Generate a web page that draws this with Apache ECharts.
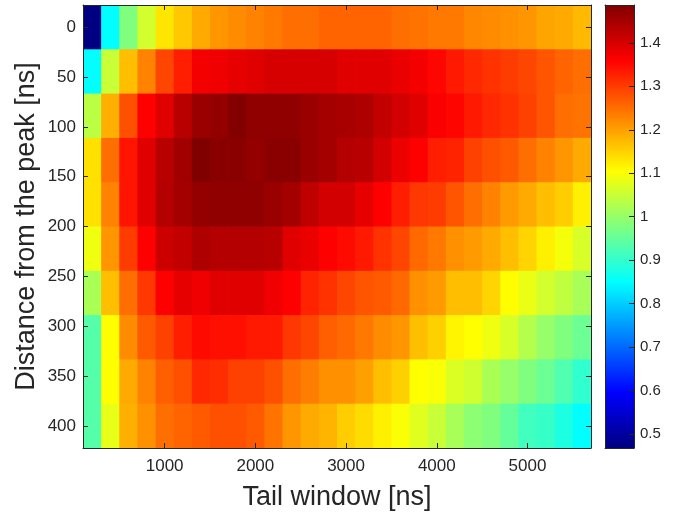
<!DOCTYPE html>
<html>
<head>
<meta charset="utf-8">
<script src="https://cdn.jsdelivr.net/npm/echarts@6/dist/echarts.min.js"></script>
<style>
  html, body { margin: 0; padding: 0; background: #ffffff; }
  #chart { width: 678px; height: 512px; }
</style>
</head>
<body>
<div id="chart"></div>
<script>
// Tail window centres [ns] (columns)
var tailWindows = [200, 400, 600, 800, 1000, 1200, 1400, 1600, 1800, 2000, 2200, 2400, 2600, 2800,
                   3000, 3200, 3400, 3600, 3800, 4000, 4200, 4400, 4600, 4800, 5000, 5200, 5400, 5600];
// Distance from the peak [ns] (rows)
var distances = [0, 44.444, 88.889, 133.333, 177.778, 222.222, 266.667, 311.111, 355.556, 400];

// Values, one array per row (distance)
var row0 = [0.468, 0.85, 0.978, 1.06, 1.13, 1.16, 1.19, 1.21, 1.22, 1.23, 1.24, 1.25, 1.25, 1.26, 1.26, 1.26, 1.26, 1.25, 1.245, 1.24, 1.24, 1.225, 1.22, 1.215, 1.21, 1.195, 1.19, 1.175];
var row1 = [0.85, 1.05, 1.17, 1.23, 1.29, 1.33, 1.37, 1.375, 1.385, 1.39, 1.40, 1.40, 1.40, 1.40, 1.39, 1.39, 1.39, 1.38, 1.37, 1.355, 1.335, 1.32, 1.31, 1.30, 1.29, 1.275, 1.26, 1.25];
var row2 = [1.037, 1.185, 1.28, 1.36, 1.39, 1.43, 1.46, 1.467, 1.485, 1.47, 1.47, 1.47, 1.46, 1.45, 1.447, 1.44, 1.42, 1.405, 1.39, 1.365, 1.355, 1.335, 1.32, 1.31, 1.295, 1.275, 1.25, 1.245];
var row3 = [1.135, 1.25, 1.34, 1.39, 1.43, 1.455, 1.487, 1.477, 1.477, 1.467, 1.477, 1.477, 1.46, 1.45, 1.435, 1.43, 1.405, 1.378, 1.36, 1.33, 1.325, 1.295, 1.28, 1.27, 1.25, 1.23, 1.21, 1.19];
var row4 = [1.135, 1.23, 1.34, 1.39, 1.435, 1.45, 1.467, 1.47, 1.47, 1.47, 1.46, 1.45, 1.425, 1.405, 1.405, 1.385, 1.36, 1.33, 1.305, 1.30, 1.275, 1.25, 1.23, 1.205, 1.19, 1.17, 1.155, 1.12];
var row5 = [1.09, 1.21, 1.30, 1.36, 1.41, 1.42, 1.44, 1.435, 1.435, 1.435, 1.43, 1.39, 1.38, 1.36, 1.35, 1.335, 1.31, 1.29, 1.255, 1.24, 1.215, 1.205, 1.19, 1.17, 1.148, 1.12, 1.095, 1.066];
var row6 = [1.02, 1.17, 1.25, 1.305, 1.36, 1.385, 1.375, 1.39, 1.39, 1.39, 1.375, 1.36, 1.325, 1.31, 1.29, 1.275, 1.27, 1.255, 1.215, 1.205, 1.17, 1.17, 1.148, 1.107, 1.085, 1.06, 1.041, 1.018];
var row7 = [0.935, 1.105, 1.22, 1.27, 1.295, 1.33, 1.35, 1.345, 1.345, 1.335, 1.335, 1.305, 1.29, 1.265, 1.255, 1.24, 1.22, 1.21, 1.17, 1.152, 1.115, 1.105, 1.09, 1.066, 1.03, 1.0, 0.978, 0.957];
var row8 = [0.935, 1.105, 1.19, 1.23, 1.265, 1.28, 1.32, 1.315, 1.295, 1.295, 1.28, 1.25, 1.235, 1.215, 1.215, 1.2, 1.17, 1.152, 1.105, 1.10, 1.07, 1.058, 1.02, 1.0, 0.978, 0.957, 0.93, 0.898];
var row9 = [0.935, 1.082, 1.185, 1.215, 1.25, 1.26, 1.27, 1.28, 1.28, 1.27, 1.245, 1.21, 1.19, 1.18, 1.155, 1.14, 1.12, 1.10, 1.075, 1.05, 1.018, 0.99, 0.978, 0.95, 0.914, 0.905, 0.878, 0.85];
var rows = [row0, row1, row2, row3, row4, row5, row6, row7, row8, row9];

// Tick labels
var xTicks = [1000, 2000, 3000, 4000, 5000];
var yTicks = [0, 50, 100, 150, 200, 250, 300, 350, 400];
var cTicks = [0.5, 0.6, 0.7, 0.8, 0.9, 1, 1.1, 1.2, 1.3, 1.4];

// Colour scale range
var cMin = 0.468, cMax = 1.487;
var jet = ['#000080', '#0000FF', '#0080FF', '#00FFFF', '#80FF80', '#FFFF00', '#FF8000', '#FF0000', '#800000'];

var data = [];
for (var r = 0; r < rows.length; r++) {
  for (var c = 0; c < tailWindows.length; c++) {
    data.push([tailWindows[c], distances[r], rows[r][c]]);
  }
}
var dx = tailWindows[1] - tailWindows[0];
var dy = distances[1] - distances[0];

var FONT = '"Liberation Sans", Arial, Helvetica, sans-serif';
var TXT = '#262626';
var LINE = '#262626';
function plain(v) { return String(v); }

function frameAxis(extra) {
  var base = {
    type: 'value', z: 5, splitLine: { show: false },
    axisLine: { show: true, onZero: false, lineStyle: { color: LINE, width: 1 } },
    axisTick: { show: true, inside: true, length: 5, lineStyle: { color: LINE, width: 1 } },
    axisLabel: { show: false }
  };
  for (var k in extra) base[k] = extra[k];
  return base;
}

var chart = echarts.init(document.getElementById('chart'), null, { renderer: 'canvas' });
var option = {
  animation: false,
  backgroundColor: '#ffffff',
  textStyle: { fontFamily: FONT },
  grid: [
    { left: 83, top: 5, width: 508, height: 443, outerBoundsMode: 'none', containLabel: false },
    { left: 605, top: 5, width: 29, height: 443, outerBoundsMode: 'none', containLabel: false }
  ],
  xAxis: [
    frameAxis({
      gridIndex: 0, position: 'bottom', min: tailWindows[0] - dx / 2, max: tailWindows[tailWindows.length - 1] + dx / 2,
      axisTick: { show: true, inside: true, length: 5, customValues: xTicks, lineStyle: { color: LINE, width: 1 } },
      axisLabel: { show: true, customValues: xTicks, formatter: plain, fontSize: 17, color: TXT, margin: 10, fontFamily: FONT },
      name: 'Tail window [ns]', nameLocation: 'middle', nameGap: 36, nameMoveOverlap: false,
      nameTextStyle: { fontSize: 27, color: TXT, fontFamily: FONT }
    }),
    frameAxis({
      gridIndex: 0, position: 'top', min: tailWindows[0] - dx / 2, max: tailWindows[tailWindows.length - 1] + dx / 2,
      axisTick: { show: true, inside: true, length: 5, customValues: xTicks, lineStyle: { color: LINE, width: 1 } }
    }),
    frameAxis({ gridIndex: 1, position: 'bottom', min: 0, max: 1, axisTick: { show: false } }),
    frameAxis({ gridIndex: 1, position: 'top', min: 0, max: 1, axisTick: { show: false } })
  ],
  yAxis: [
    frameAxis({
      gridIndex: 0, position: 'left', inverse: true, min: distances[0] - dy / 2, max: distances[distances.length - 1] + dy / 2,
      axisTick: { show: true, inside: true, length: 5, customValues: yTicks, lineStyle: { color: LINE, width: 1 } },
      axisLabel: { show: true, customValues: yTicks, formatter: plain, fontSize: 17, color: TXT, margin: 7, fontFamily: FONT },
      name: 'Distance from the peak [ns]', nameLocation: 'middle', nameGap: 43, nameMoveOverlap: false,
      nameTextStyle: { fontSize: 27, color: TXT, fontFamily: FONT }
    }),
    frameAxis({
      gridIndex: 0, position: 'right', inverse: true, min: distances[0] - dy / 2, max: distances[distances.length - 1] + dy / 2,
      axisTick: { show: true, inside: true, length: 5, customValues: yTicks, lineStyle: { color: LINE, width: 1 } }
    }),
    frameAxis({ gridIndex: 1, position: 'left', min: cMin, max: cMax, axisTick: { show: false } }),
    frameAxis({
      gridIndex: 1, position: 'right', min: cMin, max: cMax,
      axisTick: { show: true, inside: true, length: 5, customValues: cTicks, lineStyle: { color: LINE, width: 1 } },
      axisLabel: { show: true, customValues: cTicks, formatter: plain, fontSize: 15, color: TXT, margin: 6, fontFamily: FONT }
    })
  ],
  visualMap: {
    type: 'continuous', show: false, seriesIndex: 0, dimension: 2,
    min: cMin, max: cMax, inRange: { color: jet }
  },
  series: [
    {
      type: 'custom', xAxisIndex: 0, yAxisIndex: 0, clip: true,
      data: data,
      renderItem: function (params, api) {
        var x = api.value(0), y = api.value(1);
        var p0 = api.coord([x - dx / 2, y - dy / 2]);
        var p1 = api.coord([x + dx / 2, y + dy / 2]);
        var left = Math.min(p0[0], p1[0]), top = Math.min(p0[1], p1[1]);
        return {
          type: 'rect',
          shape: { x: left, y: top, width: Math.abs(p1[0] - p0[0]) + 0.8, height: Math.abs(p1[1] - p0[1]) + 0.8 },
          style: { fill: api.visual('color') }
        };
      }
    },
    {
      type: 'custom', xAxisIndex: 2, yAxisIndex: 2, clip: true,
      data: [[0, cMin, cMax]],
      renderItem: function (params, api) {
        var p0 = api.coord([0, api.value(1)]);
        var p1 = api.coord([1, api.value(2)]);
        var stops = jet.map(function (c, i) { return { offset: i / (jet.length - 1), color: c }; });
        return {
          type: 'rect',
          shape: { x: Math.min(p0[0], p1[0]), y: Math.min(p0[1], p1[1]), width: Math.abs(p1[0] - p0[0]), height: Math.abs(p1[1] - p0[1]) },
          style: { fill: { type: 'linear', x: 0, y: 1, x2: 0, y2: 0, colorStops: stops } }
        };
      }
    }
  ]
};
chart.setOption(option);
</script>
</body>
</html>
